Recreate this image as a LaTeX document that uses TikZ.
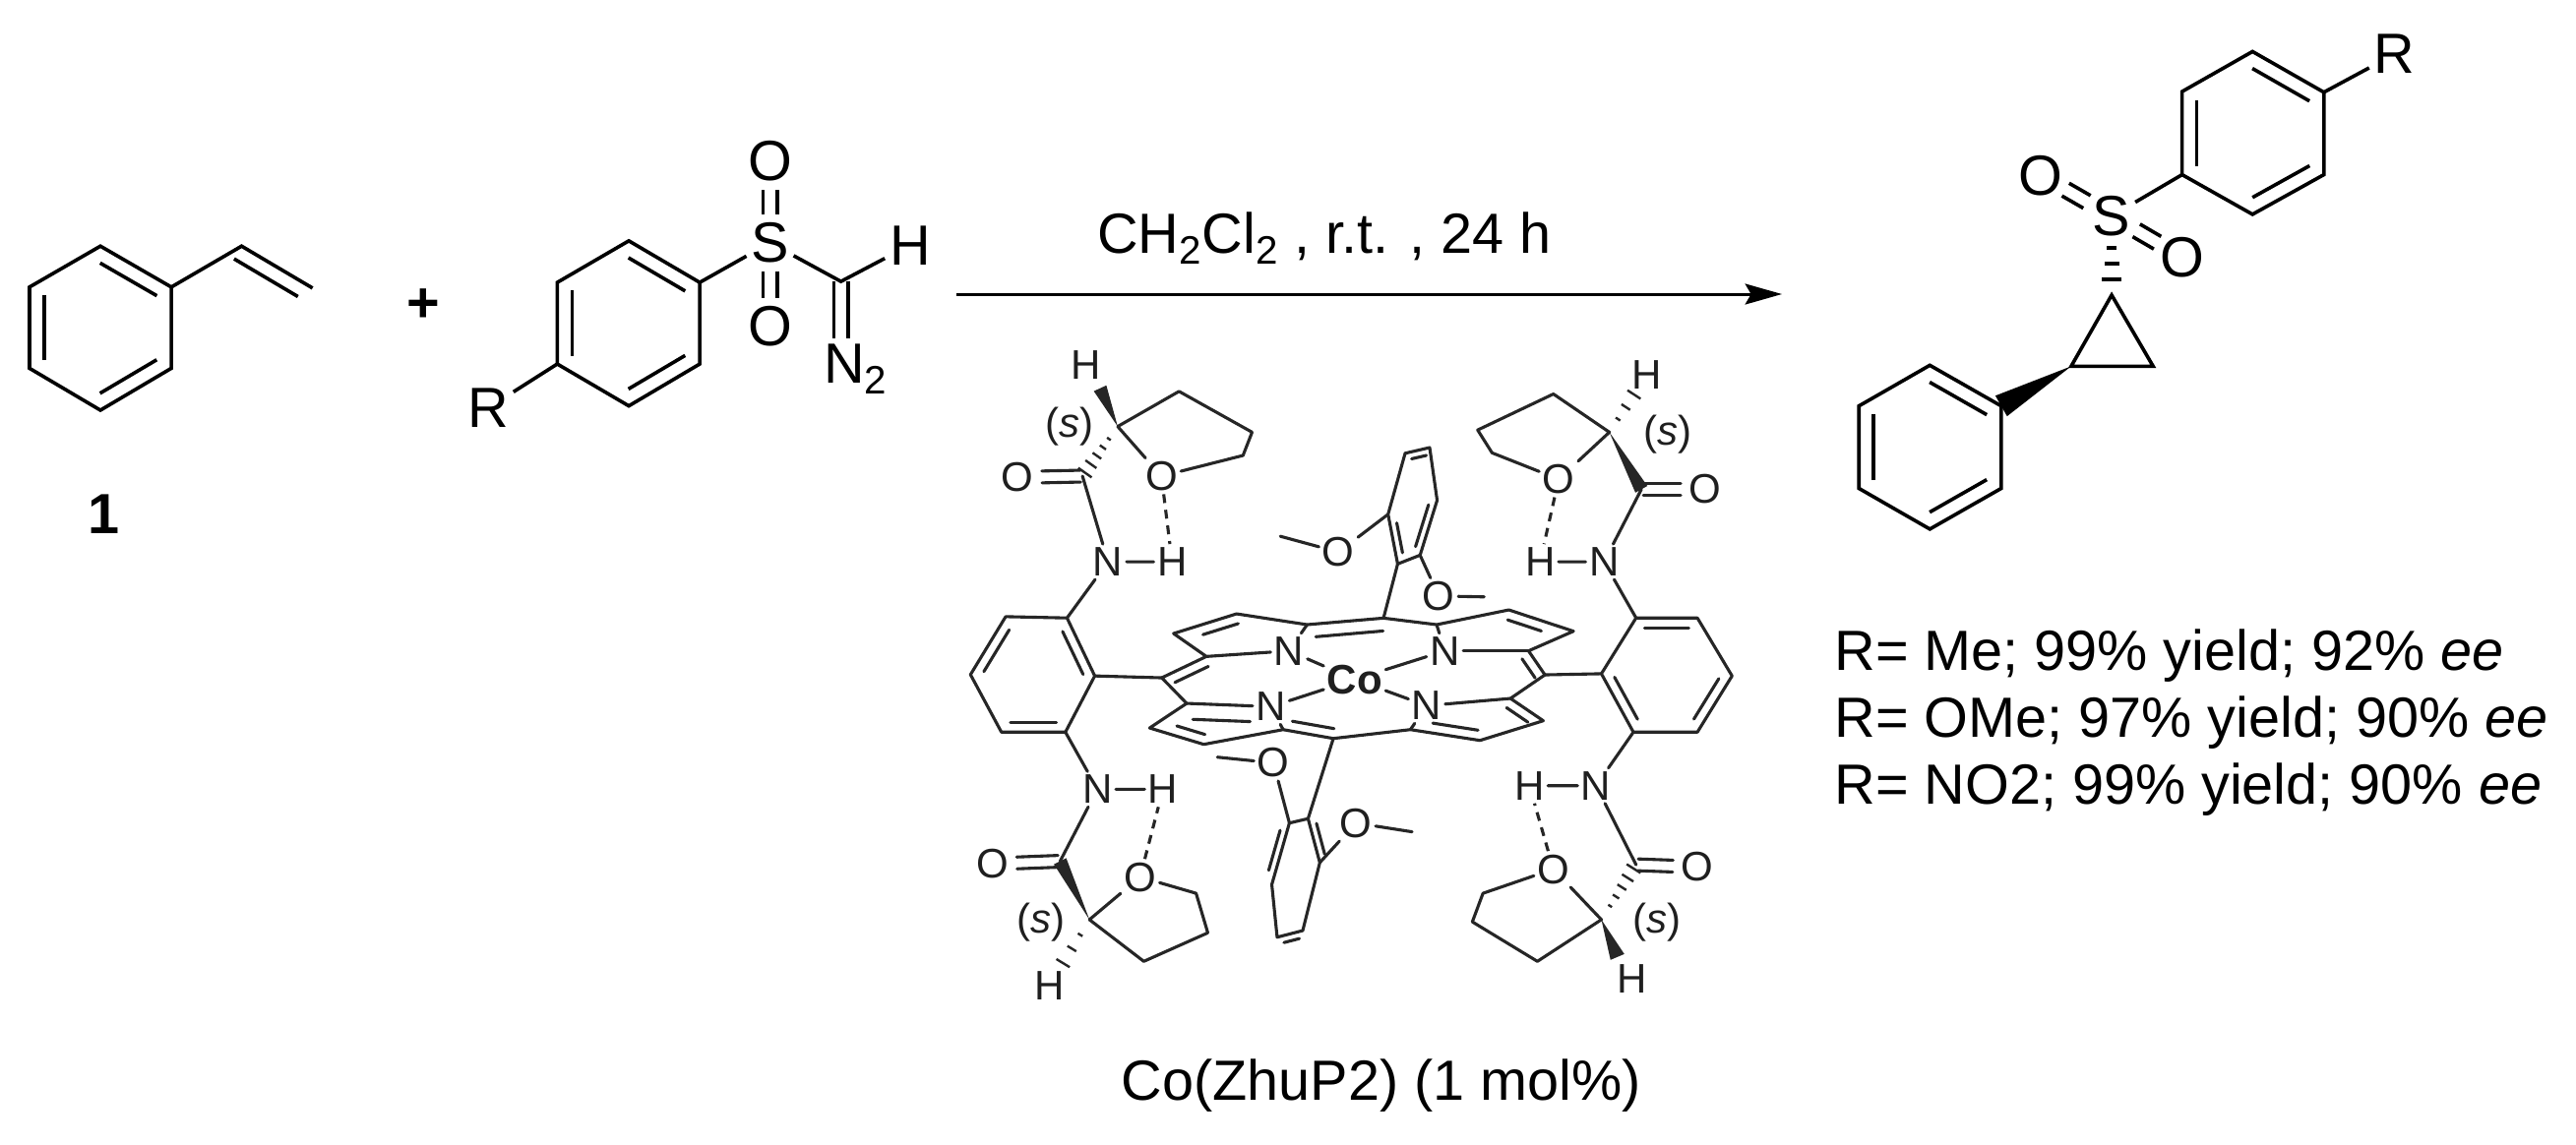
\documentclass[tikz,border=0pt]{standalone}
\usepackage{fontspec}
\setmainfont{Liberation Sans}
\usetikzlibrary{calc,arrows.meta}
\newcommand\inb[5]{\draw ($(#1)!#4!(#2)!#3!-90:(#2)$) -- ($(#2)!#5!(#1)!#3!90:(#1)$);}
\newcommand\dbl[5]{\draw[shorten <=#4,shorten >=#5] ($(#1)!#3!90:(#2)$) -- ($(#2)!#3!-90:(#1)$);
  \draw[shorten <=#4,shorten >=#5] ($(#1)!#3!-90:(#2)$) -- ($(#2)!#3!90:(#1)$);}
\newcommand\wdg[3]{\fill (#1) -- ($(#2)!#3!90:(#1)$) -- ($(#2)!#3!-90:(#1)$) -- cycle;}
\newcommand\hsh[4]{\foreach \t in {#3}{\pgfmathsetmacro\hw{\t*#4}
  \draw ($(#1)!\t!(#2)!\hw pt!90:(#2)$) -- ($(#1)!\t!(#2)!\hw pt!-90:(#2)$);}}
\tikzset{
  crisp/.style={line width=1.8pt,line join=miter,black},
  soft/.style={line width=1.55pt,line join=round,line cap=round,color=black!85},
  atomA/.style={font=\fontsize{28.8}{32}\selectfont,inner sep=1.5pt},
  atomB/.style={font=\fontsize{21}{24}\selectfont,inner sep=1pt,text=black!88},
  txt/.style={font=\fontsize{28.8}{34}\selectfont,inner sep=0pt},
  hb/.style={dash pattern=on 4.5pt off 3.5pt,line cap=butt}
}
\begin{document}
\begin{tikzpicture}[x=0.5pt,y=-0.5pt]
\useasboundingbox (0,0) rectangle (2618,1163);
\fill[white] (0,0) rectangle (2618,1163);

%% reactants
\begin{scope}[crisp,shift={(0pt,-60pt)},x=.3189pt,y=-.1678pt]
 \coordinate (s1) at (160,388); \coordinate (s2) at (273,512); \coordinate (s3) at (273,758);
 \coordinate (s4) at (160,885); \coordinate (s5) at (47,758); \coordinate (s6) at (47,512);
 \coordinate (v1) at (385,388); \coordinate (v2) at (498,515);
 \draw (s1)--(s2)--(s3)--(s4)--(s5)--(s6)--cycle;
 \draw (s2)--(v1)--(v2);
 \inb{s1}{s2}{7.5pt}{.1}{.1} \inb{s3}{s4}{7.5pt}{.1}{.1} \inb{s5}{s6}{7.5pt}{.1}{.1}
 \inb{v1}{v2}{7.5pt}{.0}{.1}
 \node[atomA] (one) at (165,1200) {\bfseries 1};
 \node[atomA] (plus) at (675,568) {\bfseries +};
 \coordinate (t1) at (1002,372); \coordinate (t2) at (1115,498); \coordinate (t3) at (1115,745);
 \coordinate (t4) at (1002,872); \coordinate (t5) at (888,745); \coordinate (t6) at (888,498);
 \draw (t1)--(t2)--(t3)--(t4)--(t5)--(t6)--cycle;
 \inb{t1}{t2}{7.5pt}{.1}{.1} \inb{t3}{t4}{7.5pt}{.1}{.1} \inb{t5}{t6}{7.5pt}{.1}{.1}
 \node[atomA] (rR) at (778,878) {R};
 \node[atomA] (sS) at (1227,378) {S};
 \node[atomA] (sO1) at (1227,130) {O};
 \node[atomA] (sO2) at (1227,632) {O};
 \node[atomA] (sH) at (1450,385) {H};
 \node[atomA,anchor=north west,inner sep=0pt] (sN) at (1310,680) {N\textsubscript{2}};
 \coordinate (dc) at (1340,495); \coordinate (dn) at (1340,668);
 \draw (t5)--(rR); \draw (t2)--(sS); \draw (sS)--(dc)--(sH);
 \dbl{sS}{sO1}{3.6pt}{14.5pt}{14.5pt}
 \dbl{sS}{sO2}{3.6pt}{14.5pt}{14.5pt}
 \dbl{dc}{dn}{3.6pt}{0pt}{0pt}
\end{scope}

%% arrow and reaction labels
\coordinate (as) at (972,299); \coordinate (ae) at (1811,299);
\draw[line width=1.5pt,-{Stealth[length=18.7pt,width=10.5pt,inset=3pt]}] (as)--(ae);
\node[txt] (cond) at (1346,242) {CH\textsubscript{2}Cl\textsubscript{2} , r.t. , 24 h};
\node[txt] (cat) at (1404,1104) {Co(ZhuP2) (1 mol\%)};
\node[txt,anchor=west,align=left] (res) at (1864,735) {R= Me; 99\% yield; 92\% \textit{ee}\\R= OMe; 97\% yield; 90\% \textit{ee}\\R= NO2; 99\% yield; 90\% \textit{ee}};

%% product
\begin{scope}[crisp,shift={(925pt,0pt)},x=.2451pt,y=-.1724pt]
 \coordinate (p1) at (896,152); \coordinate (p2) at (1044,272); \coordinate (p3) at (1044,515);
 \coordinate (p4) at (896,632); \coordinate (p5) at (750,515); \coordinate (p6) at (750,270);
 \draw (p1)--(p2)--(p3)--(p4)--(p5)--(p6)--cycle;
 \inb{p1}{p2}{7.5pt}{.1}{.1} \inb{p3}{p4}{7.5pt}{.1}{.1} \inb{p5}{p6}{7.5pt}{.1}{.1}
 \node[atomA] (pR) at (1190,160) {R};
 \node[atomA] (pS) at (604,637) {S};
 \node[atomA] (pO1) at (457,517) {O};
 \node[atomA] (pO2) at (750,758) {O};
 \draw (p2)--(pR); \draw (p5)--(pS);
 \dbl{pS}{pO1}{3.7pt}{14.5pt}{14.5pt}
 \dbl{pS}{pO2}{3.7pt}{14.5pt}{14.5pt}
 \coordinate (c1) at (604,870); \coordinate (c2) at (520,1080); \coordinate (c3) at (690,1080);
 \draw (c1)--(c2)--(c3)--cycle;
 \begin{scope}[line width=1.8pt]\hsh{pS}{c1}{.4,.6,.8}{6.25pt}\end{scope}
 \coordinate (q1) at (227,1077); \coordinate (q2) at (375,1197); \coordinate (q3) at (375,1440);
 \coordinate (q4) at (227,1560); \coordinate (q5) at (80,1440); \coordinate (q6) at (80,1197);
 \draw (q1)--(q2)--(q3)--(q4)--(q5)--(q6)--cycle;
 \inb{q1}{q2}{7.5pt}{.1}{.1} \inb{q3}{q4}{7.5pt}{.1}{.1} \inb{q5}{q6}{7.5pt}{.1}{.1}
 \wdg{c2}{q2}{6pt}
\end{scope}

%% porphyrin core
\begin{scope}[soft,shift={(550pt,-280pt)},x=.1667pt,y=-.1667pt]
 \coordinate (ML) at (242,387); \coordinate (a1) at (378,322); \coordinate (b1) at (278,252);
 \coordinate (b2) at (470,192); \coordinate (a2) at (685,225); \coordinate (MT) at (918,205);
 \coordinate (a3) at (1080,225); \coordinate (b3) at (1300,180); \coordinate (b4) at (1497,245);
 \coordinate (a4) at (1360,305); \coordinate (MR) at (1410,378); \coordinate (a5) at (1305,450);
 \coordinate (b5) at (1405,518); \coordinate (b6) at (1212,578); \coordinate (a6) at (1000,545);
 \coordinate (MB) at (765,572); \coordinate (a7) at (612,545); \coordinate (b7) at (370,590);
 \coordinate (b8) at (205,540); \coordinate (a8) at (318,465);
 \node[atomB] (N1) at (630,305) {N};
 \node[atomB] (N2) at (1105,305) {N};
 \node[atomB] (N3) at (1050,472) {N};
 \node[atomB] (N4) at (575,475) {N};
 \node[atomB,font=\fontsize{21}{24}\selectfont\bfseries] (Co) at (830,392) {Co};
 \draw (ML)--(a1)--(b1)--(b2)--(a2)--(MT)--(a3)--(b3)--(b4)--(a4)--(MR)--(a5)--(b5)--(b6)--(a6)--(MB)--(a7)--(b7)--(b8)--(a8)--cycle;
 \inb{ML}{a1}{5pt}{.2}{.05} \inb{b1}{b2}{5pt}{.42}{.02} \inb{a2}{MT}{6.5pt}{.1}{.02}
 \inb{b3}{b4}{5pt}{.03}{.45} \inb{a4}{MR}{5pt}{.1}{.1} \inb{a5}{b5}{5pt}{.05}{.3}
 \inb{b6}{a6}{5pt}{.05}{.3} \inb{MB}{a7}{5pt}{.02}{.15} \inb{b7}{b8}{5pt}{.03}{.45}
 \draw (a8)--(N4); \inb{a8}{N4}{8pt}{.08}{.24}
 \draw (a1)--(N1); \draw (a2)--(N1); \draw (a3)--(N2); \draw (a4)--(N2);
 \draw (a5)--(N3); \draw (a6)--(N3); \draw (a7)--(N4);
 \draw (N1)--(Co); \draw (N2)--(Co); \draw (N3)--(Co); \draw (N4)--(Co);
\end{scope}

%% catalyst periphery
\begin{scope}[soft,shift={(475pt,-165pt)},x=.271pt,y=-.2232pt]
 % left aryl
 \coordinate (la) at (133,665); \coordinate (lb) at (248,668); \coordinate (lc) at (300,800);
 \coordinate (ld) at (245,928); \coordinate (le) at (125,928); \coordinate (lf) at (67,797);
 \draw (la)--(lb)--(lc)--(ld)--(le)--(lf)--cycle;
 \inb{lb}{lc}{5pt}{.16}{.1} \inb{ld}{le}{5pt}{.14}{.14} \inb{lf}{la}{5pt}{.14}{.14}
 \draw (lc)--(ML);
 % right aryl
 \coordinate (ra) at (1315,668); \coordinate (rb) at (1430,668); \coordinate (rc) at (1495,800);
 \coordinate (rd) at (1430,928); \coordinate (re) at (1310,928); \coordinate (rf) at (1250,795);
 \draw (ra)--(rb)--(rc)--(rd)--(re)--(rf)--cycle;
 \inb{ra}{rb}{5pt}{.14}{.14} \inb{rc}{rd}{5pt}{.14}{.14} \inb{re}{rf}{5pt}{.14}{.14}
 \draw (rf)--(MR);
 % top anisyl
 \coordinate (ta) at (868,545); \coordinate (tb) at (850,432); \coordinate (tc) at (882,293);
 \coordinate (td) at (928,280); \coordinate (te) at (942,400); \coordinate (tf) at (910,525);
 \draw (ta)--(tb)--(tc)--(td)--(te)--(tf)--cycle;
 \draw (MT)--(ta);
 \inb{ta}{tb}{3.5pt}{.2}{.2} \inb{te}{tf}{3.5pt}{.12}{.12} \inb{tc}{td}{3.5pt}{.2}{.2}
 \node[atomB] (tO1) at (757,518) {O};
 \node[atomB] (tO2) at (945,618) {O};
 \coordinate (tm1) at (648,482); \coordinate (tm2) at (1030,620);
 \draw (tb)--(tO1)--(tm1); \draw (tf)--(tO2)--(tm2);
 % bottom anisyl
 \coordinate (ba) at (700,1125); \coordinate (bb) at (665,1135); \coordinate (bc) at (632,1275);
 \coordinate (bd) at (642,1395); \coordinate (be) at (690,1380); \coordinate (bf) at (722,1225);
 \draw (ba)--(bb)--(bc)--(bd)--(be)--(bf)--cycle;
 \draw (MB)--(ba);
 \inb{bb}{bc}{3.5pt}{.15}{.2} \inb{bd}{be}{3.5pt}{.2}{.2} \inb{bf}{ba}{3.5pt}{.15}{.15}
 \node[atomB] (bO1) at (635,998) {O};
 \node[atomB] (bO2) at (790,1135) {O};
 \coordinate (bm1) at (530,985); \coordinate (bm2) at (895,1155);
 \draw (bb)--(bO1)--(bm1); \draw (bf)--(bO2)--(bm2);

 % upper left amide
 \node[atomB] (ulN) at (325,540) {N}; \node[atomB] (ulH) at (445,540) {H};
 \node[atomB] (ulO) at (155,348) {O}; \node[atomB] (ulOr) at (425,345) {O};
 \node[atomB] (ulHs) at (283,92) {H}; \node[atomB,font=\fontsize{21}{24}\selectfont\itshape] (uls) at (252,232) {\upshape(\itshape s\upshape)};
 \coordinate (ulC) at (277,345); \coordinate (ulX) at (343,232); \coordinate (ulW) at (310,145);
 \coordinate (ul1) at (458,152); \coordinate (ul2) at (595,245); \coordinate (ul3) at (578,298);
 \draw (lb)--(ulN)--(ulH); \draw (ulN)--(ulC);
 \dbl{ulC}{ulO}{3pt}{1pt}{12.5pt}
 \draw[hb] (ulOr)--(ulH);
 \draw (ulX)--(ul1)--(ul2)--(ul3)--(ulOr)--(ulX);
 \wdg{ulX}{ulW}{3.5pt}
 \begin{scope}[line width=1.2pt,line cap=butt]\hsh{ulX}{ulC}{.25,.42,.59,.76,.93}{4.5pt}\end{scope}

 % upper right amide
 \node[atomB] (urN) at (1255,540) {N}; \node[atomB] (urH) at (1135,540) {H};
 \node[atomB] (urO) at (1445,375) {O}; \node[atomB] (urOr) at (1170,352) {O};
 \node[atomB] (urHs) at (1335,115) {H}; \node[atomB,font=\fontsize{21}{24}\selectfont\itshape] (urs) at (1375,250) {\upshape(\itshape s\upshape)};
 \coordinate (urC) at (1325,375); \coordinate (urX) at (1265,245);
 \coordinate (ur1) at (1160,158); \coordinate (ur2) at (1018,240); \coordinate (ur3) at (1045,292);
 \draw (ra)--(urN)--(urH); \draw (urN)--(urC);
 \dbl{urC}{urO}{3pt}{1pt}{12.5pt}
 \draw[hb] (urOr)--(urH);
 \draw (urX)--(ur1)--(ur2)--(ur3)--(urOr)--(urX);
 \wdg{urX}{urC}{3.5pt}
 \begin{scope}[line width=1.2pt,line cap=butt]\hsh{urX}{urHs}{.23,.44,.66}{6pt}\end{scope}

 % lower left amide
 \node[atomB] (llN) at (305,1058) {N}; \node[atomB] (llH) at (428,1058) {H};
 \node[atomB] (llO) at (108,1228) {O}; \node[atomB] (llOr) at (385,1258) {O};
 \node[atomB] (llHs) at (215,1505) {H}; \node[atomB,font=\fontsize{21}{24}\selectfont\itshape] (lls) at (200,1360) {\upshape(\itshape s\upshape)};
 \coordinate (llC) at (235,1222); \coordinate (llX) at (290,1355);
 \coordinate (ll1) at (490,1295); \coordinate (ll2) at (512,1385); \coordinate (ll3) at (392,1450);
 \draw (ld)--(llN)--(llH); \draw (llN)--(llC);
 \dbl{llC}{llO}{3pt}{1pt}{12.5pt}
 \draw[hb] (llOr)--(llH);
 \draw (llX)--(llOr)--(ll1)--(ll2)--(ll3)--(llX);
 \wdg{llX}{llC}{3.5pt}
 \begin{scope}[line width=1.2pt,line cap=butt]\hsh{llX}{llHs}{.23,.44,.66}{6pt}\end{scope}

 % lower right amide
 \node[atomB] (lrN) at (1240,1050) {N}; \node[atomB] (lrH) at (1115,1050) {H};
 \node[atomB] (lrO) at (1430,1235) {O}; \node[atomB] (lrOr) at (1160,1240) {O};
 \node[atomB] (lrHs) at (1308,1490) {H}; \node[atomB,font=\fontsize{21}{24}\selectfont\itshape] (lrs) at (1355,1360) {\upshape(\itshape s\upshape)};
 \coordinate (lrC) at (1315,1230); \coordinate (lrX) at (1250,1355); \coordinate (lrW) at (1280,1440);
 \coordinate (lr1) at (1028,1295); \coordinate (lr2) at (1008,1360); \coordinate (lr3) at (1130,1450);
 \draw (re)--(lrN)--(lrH); \draw (lrN)--(lrC);
 \dbl{lrC}{lrO}{3pt}{1pt}{12.5pt}
 \draw[hb] (lrOr)--(lrH);
 \draw (lrOr)--(lr1)--(lr2)--(lr3)--(lrX)--(lrOr);
 \wdg{lrX}{lrW}{3.8pt}
 \begin{scope}[line width=1.2pt,line cap=butt]\hsh{lrX}{lrC}{.25,.42,.59,.76,.93}{4.5pt}\end{scope}
\end{scope}
\end{tikzpicture}
\end{document}
